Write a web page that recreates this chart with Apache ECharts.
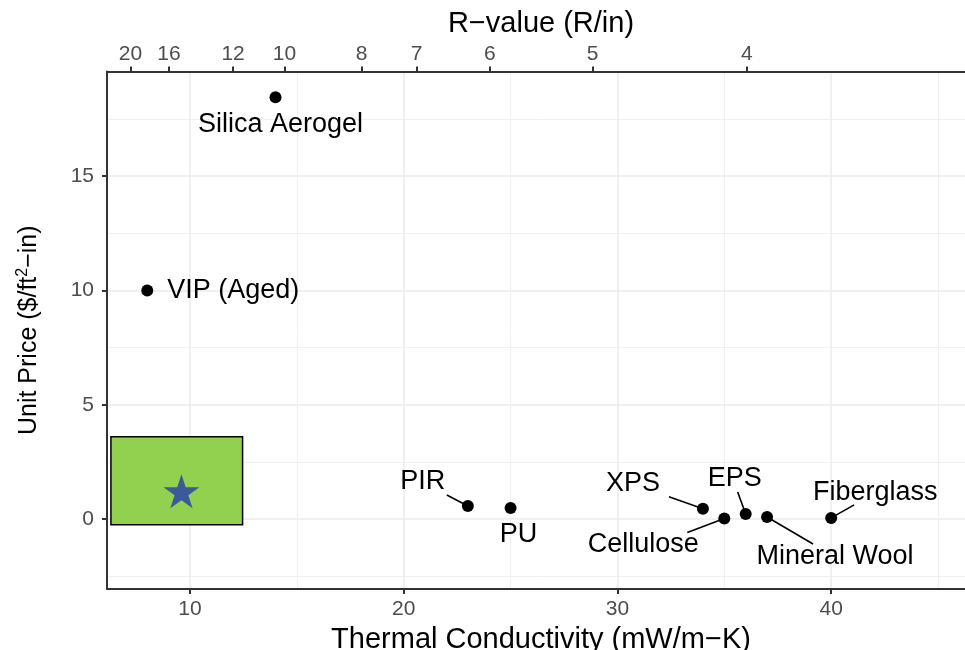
<!DOCTYPE html>
<html>
<head>
<meta charset="utf-8">
<script src="https://cdn.jsdelivr.net/npm/echarts@6/dist/echarts.min.js"></script>
<style>
  html, body { margin: 0; padding: 0; background: #fff; }
  #chart { width: 965px; height: 650px; }
</style>
</head>
<body>
<div id="chart"></div>
<script>
// materials and their values
var materials = ['Silica Aerogel', 'VIP (Aged)', 'PIR', 'PU', 'XPS', 'Cellulose', 'EPS', 'Mineral Wool', 'Fiberglass'];
var conductivity = [14, 8, 23, 25, 34, 35, 36, 37, 40];
var unitPrice = [18.45, 10, 0.57, 0.48, 0.45, 0.02, 0.22, 0.09, 0.05];

// target region + star
var targetK = [9.6];
var targetPrice = [1.22];
var targetBoxK = [6.3, 12.46];
var targetBoxPrice = [-0.25, 3.6];

// ticks
var kTicks = [10, 20, 30, 40];
var kMinorTicks = [15, 25, 35, 45];
var priceTicks = [0, 5, 10, 15];
var priceMinorTicks = [-2.5, 2.5, 7.5, 12.5, 17.5];
var rValueTicks = [20, 16, 12, 10, 8, 7, 6, 5, 4];

// R/in = 144.2 / k (mW/m-K)
var rFactor = 144.2;

// label placement (ggrepel look), px from point
var labelOffsets = [[5, 27], [0, 0], [-45, -24], [8, 26], [-70, -25], [-81, 26], [-11, -35], [68, 40], [44, -25]];
// where the leader segment ends, px from point (null = no segment)
var leaderEnds = [null, null, [-21, -11], null, [-34, -12], [-37, 14], [-8, -22], [46, 27], [23, -13]];

var font = 'Liberation Sans, Arial, Helvetica, sans-serif';
// panel runs a bit past the right edge of the picture
var xMin = 6.116, xMax = 46.73, yMin = -3.06, yMax = 19.58;

var myChart = echarts.init(document.getElementById('chart'));

var pointData = materials.map(function (name, i) {
  var item = { name: name, value: [conductivity[i], unitPrice[i]] };
  if (name === 'VIP (Aged)') {
    item.label = { position: 'right', distance: 14 };
  }
  return item;
});

var leaderData = [];
materials.forEach(function (name, i) {
  if (leaderEnds[i]) leaderData.push([conductivity[i], unitPrice[i], i]);
});

var rTickPos = rValueTicks.map(function (r) { return rFactor / r; });

var option = {
  animation: false,
  textStyle: { fontFamily: font },
  grid: { left: 107, right: -10, top: 71.5, bottom: 61, containLabel: false, outerBoundsMode: 'none' },
  xAxis: [
    {
      type: 'value', position: 'bottom', min: xMin, max: xMax,
      name: 'Thermal Conductivity (mW/m\u2212K)',
      nameLocation: 'middle', nameGap: 36,
      nameTextStyle: { fontSize: 29, color: '#000', fontFamily: font },
      axisLine: { show: true, onZero: false, lineStyle: { color: '#333', width: 2 } },
      axisTick: { show: true, customValues: kTicks, length: 5, lineStyle: { color: '#333', width: 2 } },
      axisLabel: { customValues: kTicks, color: '#4D4D4D', fontSize: 21, margin: 10, fontFamily: font },
      splitLine: { show: true, lineStyle: { color: '#EBEBEB', width: 1.5 } }
    },
    {
      type: 'value', position: 'top', min: xMin, max: xMax,
      name: 'R\u2212value (R/in)',
      nameLocation: 'middle', nameGap: 27,
      nameTextStyle: { fontSize: 29, color: '#000', fontFamily: font },
      axisLine: { show: true, onZero: false, lineStyle: { color: '#333', width: 2 } },
      axisTick: {
        show: true, length: 5, lineStyle: { color: '#333', width: 2 },
        customValues: rTickPos
      },
      axisLabel: {
        color: '#4D4D4D', fontSize: 21, margin: 7, fontFamily: font,
        customValues: rTickPos,
        formatter: function (v) { return String(Math.round(rFactor / v)); }
      },
      splitLine: { show: false }
    },
    {
      type: 'value', position: 'bottom', min: xMin, max: xMax,
      axisLine: { show: false, onZero: false },
      axisTick: { show: false, customValues: kMinorTicks },
      axisLabel: { show: false },
      splitLine: { show: true, lineStyle: { color: '#F0F0F0', width: 1 } }
    }
  ],
  yAxis: [
    {
      type: 'value', position: 'left', min: yMin, max: yMax,
      name: '{a|Unit Price ($/ft}{s|2}{a|\u2212in)}',
      nameLocation: 'middle', nameGap: 64, nameRotate: 90,
      nameTextStyle: {
        color: '#000', fontFamily: font,
        rich: {
          a: { fontSize: 25, color: '#000', fontFamily: font, lineHeight: 28 },
          s: { fontSize: 16, color: '#000', fontFamily: font, verticalAlign: 'top', lineHeight: 28 }
        }
      },
      axisLine: { show: true, onZero: false, lineStyle: { color: '#333', width: 2 } },
      axisTick: { show: true, customValues: priceTicks, length: 5, lineStyle: { color: '#333', width: 2 } },
      axisLabel: { customValues: priceTicks, color: '#4D4D4D', fontSize: 21, margin: 13, fontFamily: font },
      splitLine: { show: true, lineStyle: { color: '#EBEBEB', width: 1.5 } }
    },
    {
      type: 'value', position: 'left', min: yMin, max: yMax,
      axisLine: { show: false, onZero: false },
      axisTick: { show: false, customValues: priceMinorTicks },
      axisLabel: { show: false },
      splitLine: { show: true, lineStyle: { color: '#F0F0F0', width: 1 } }
    }
  ],
  series: [
    {
      name: 'target',
      type: 'scatter',
      xAxisIndex: 0, yAxisIndex: 0,
      symbol: 'path://M50,0 L61.2,34.5 L97.6,34.5 L68.2,55.9 L79.4,90.5 L50,69.1 L20.6,90.5 L31.8,55.9 L2.4,34.5 L38.8,34.5 Z',
      symbolSize: [36, 34],
      itemStyle: { color: '#3D5A98', opacity: 1 },
      data: targetK.map(function (k, i) { return [k, targetPrice[i]]; }),
      z: 5,
      markArea: {
        silent: true,
        itemStyle: { color: '#92D050', opacity: 1, borderColor: '#000', borderWidth: 1.5 },
        data: [[
          { coord: [targetBoxK[0], targetBoxPrice[1]] },
          { coord: [targetBoxK[1], targetBoxPrice[0]] }
        ]]
      }
    },
    {
      // leader segments (ggrepel style)
      name: 'leaders',
      type: 'custom',
      xAxisIndex: 0, yAxisIndex: 0,
      z: 5,
      silent: true,
      renderItem: function (params, api) {
        var p = api.coord([api.value(0), api.value(1)]);
        var end = leaderEnds[api.value(2)];
        return {
          type: 'line',
          shape: { x1: p[0], y1: p[1], x2: p[0] + end[0], y2: p[1] + end[1] },
          style: { stroke: '#000', lineWidth: 1.6 }
        };
      },
      data: leaderData
    },
    {
      name: 'materials',
      type: 'scatter',
      xAxisIndex: 0, yAxisIndex: 0,
      symbol: 'circle',
      symbolSize: 12,
      itemStyle: { color: '#000', opacity: 1 },
      z: 6,
      label: {
        show: true,
        position: 'inside',
        formatter: '{b}',
        color: '#000',
        fontSize: 27,
        fontFamily: font
      },
      labelLine: { show: false },
      labelLayout: function (p) {
        var off = labelOffsets[p.dataIndex];
        return { dx: off[0], dy: off[1] };
      },
      data: pointData
    }
  ]
};

myChart.setOption(option);
</script>
</body>
</html>
